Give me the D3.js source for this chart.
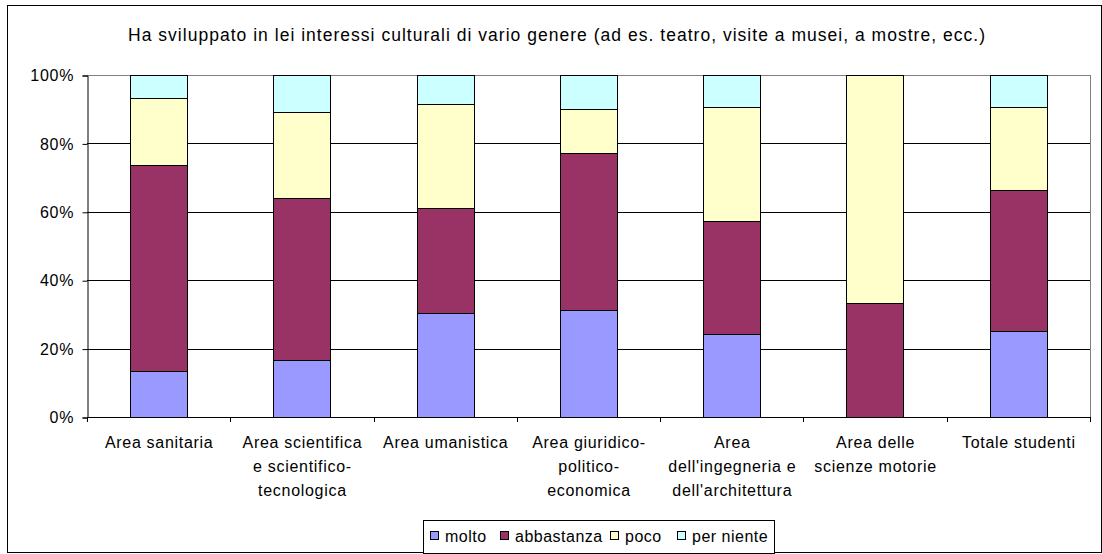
<!DOCTYPE html>
<meta charset="utf-8">
<head>
  <title>Interessi culturali</title>
</head>
<style>
body { margin: 0; background: #fff; }
text { font-family: "Liberation Sans", Arial, sans-serif; fill: #000; }
</style>
<body>
<script src="https://d3js.org/d3.v7.min.js"></script>
<script>

var categories = [
  ["Area sanitaria"],
  ["Area scientifica", "e scientifico-", "tecnologica"],
  ["Area umanistica"],
  ["Area giuridico-", "politico-", "economica"],
  ["Area", "dell'ingegneria e", "dell'architettura"],
  ["Area delle", "scienze motorie"],
  ["Totale studenti"]
];
var seriesNames = ["molto", "abbastanza", "poco", "per niente"];
var seriesColors = ["#9999ff", "#993366", "#ffffcc", "#ccffff"];

// percentuali per serie, una per area
var molto      = [13.4, 16.6, 30.4, 31.2, 24.2, 0,    25.1];
var abbastanza = [60.2, 47.3, 30.6, 46.0, 33.1, 33.3, 41.2];
var poco       = [19.8, 25.2, 30.5, 12.8, 33.3, 66.7, 24.3];
var perNiente  = [6.6,  10.9, 8.5,  10.0, 9.4,  0,    9.4];
var yTicks = [0, 20, 40, 60, 80, 100];

var title = "Ha sviluppato in lei interessi culturali di vario genere (ad es. teatro, visite a musei, a mostre, ecc.)";

var width = 1102, height = 554;
var svg = d3.select("body").append("svg")
  .attr("width", width)
  .attr("height", height);

// cornice esterna
svg.append("rect")
  .attr("x", 7.5).attr("y", 5.5)
  .attr("width", 1094).attr("height", 547)
  .attr("fill", "#fff")
  .attr("stroke", "#000");

svg.append("text")
  .attr("x", 128).attr("y", 41)
  .attr("textLength", 857)
  .attr("lengthAdjust", "spacing")
  .style("font-size", "17.5px")
  .text(title);

var plot = { left: 87, right: 1090, top: 75, bottom: 417 };

var x = d3.scaleBand()
  .domain(d3.range(categories.length))
  .range([plot.left, plot.right]);
var y = d3.scaleLinear()
  .domain([0, 100])
  .range([plot.bottom, plot.top]);

// griglia
svg.append("g").selectAll("line")
  .data(yTicks.filter(function(d) { return d > 0; }))
  .enter().append("line")
  .attr("x1", plot.left).attr("x2", plot.right)
  .attr("y1", function(d) { return Math.round(y(d)) + 0.5; })
  .attr("y2", function(d) { return Math.round(y(d)) + 0.5; })
  .attr("stroke", function(d) { return d == 100 ? "#808080" : "#000"; });

// bordo destro area del grafico
svg.append("line")
  .attr("x1", plot.right + 0.5).attr("x2", plot.right + 0.5)
  .attr("y1", plot.top).attr("y2", plot.bottom)
  .attr("stroke", "#808080");

// dati impilati
var rows = categories.map(function(c, i) {
  return { molto: molto[i], abbastanza: abbastanza[i], poco: poco[i], "per niente": perNiente[i] };
});
var stack = d3.stack().keys(seriesNames)(rows);
var bw = x.bandwidth() * 0.4;

svg.append("g").selectAll("g")
  .data(stack)
  .enter().append("g")
  .attr("fill", function(d, i) { return seriesColors[i]; })
  .selectAll("rect")
  .data(function(d) { return d.filter(function(p) { return p[1] - p[0] > 0; }); })
  .enter().append("rect")
  .attr("x", function(d) { return Math.round(x(rows.indexOf(d.data)) + (x.bandwidth() - bw) / 2) + 0.5; })
  .attr("width", Math.round(bw))
  .attr("y", function(d) { return Math.round(y(d[1])) + 0.5; })
  .attr("height", function(d) { return Math.round(y(d[0])) - Math.round(y(d[1])); })
  .attr("stroke", "#000")
  .attr("stroke-width", 1);

// asse y
var yAxis = svg.append("g")
  .attr("transform", "translate(" + (plot.left + 0.5) + ",0.5)")
  .call(d3.axisLeft(y).tickValues(yTicks).tickSize(5).tickPadding(9)
    .tickFormat(function(d) { return d + "%"; }));
yAxis.select(".domain").attr("stroke", "#000");
yAxis.selectAll("text")
  .style("font-size", "16px")
  .style("letter-spacing", "0.8px")
  .attr("dx", "0.8px");

// asse x
var xAxisG = svg.append("g");
xAxisG.append("line")
  .attr("x1", plot.left).attr("x2", plot.right + 1)
  .attr("y1", plot.bottom + 0.5).attr("y2", plot.bottom + 0.5)
  .attr("stroke", "#000");
xAxisG.selectAll(".tk")
  .data(d3.range(categories.length + 1))
  .enter().append("line")
  .attr("x1", function(i) { return Math.round(plot.left + i * x.step()) + 0.5; })
  .attr("x2", function(i) { return Math.round(plot.left + i * x.step()) + 0.5; })
  .attr("y1", plot.bottom).attr("y2", plot.bottom + 5)
  .attr("stroke", "#000");

var labels = svg.append("g").selectAll("text")
  .data(categories)
  .enter().append("text")
  .attr("text-anchor", "middle")
  .style("font-size", "16px")
  .style("letter-spacing", "0.7px")
  .attr("transform", function(d, i) { return "translate(" + (x(i) + x.bandwidth() / 2 + 0.5) + ",448)"; });
labels.selectAll("tspan")
  .data(function(d) { return d; })
  .enter().append("tspan")
  .attr("x", 0)
  .attr("y", function(d, i) { return i * 24; })
  .text(function(d) { return d; });

// legenda
var legend = svg.append("g");
legend.append("rect")
  .attr("x", 423.5).attr("y", 520.5)
  .attr("width", 351).attr("height", 33)
  .attr("fill", "#fff").attr("stroke", "#000");
var legendX = [430, 500, 610, 677];
var item = legend.selectAll("g.it")
  .data(seriesNames)
  .enter().append("g")
  .attr("transform", function(d, i) { return "translate(" + legendX[i] + ",0)"; });
item.append("rect")
  .attr("x", 0.5).attr("y", 531.5)
  .attr("width", 8).attr("height", 8)
  .attr("fill", function(d, i) { return seriesColors[i]; })
  .attr("stroke", "#000");
item.append("text")
  .attr("x", 15).attr("y", 542)
  .style("font-size", "16px")
  .style("letter-spacing", "0.5px")
  .text(function(d) { return d; });

</script>
</body>
